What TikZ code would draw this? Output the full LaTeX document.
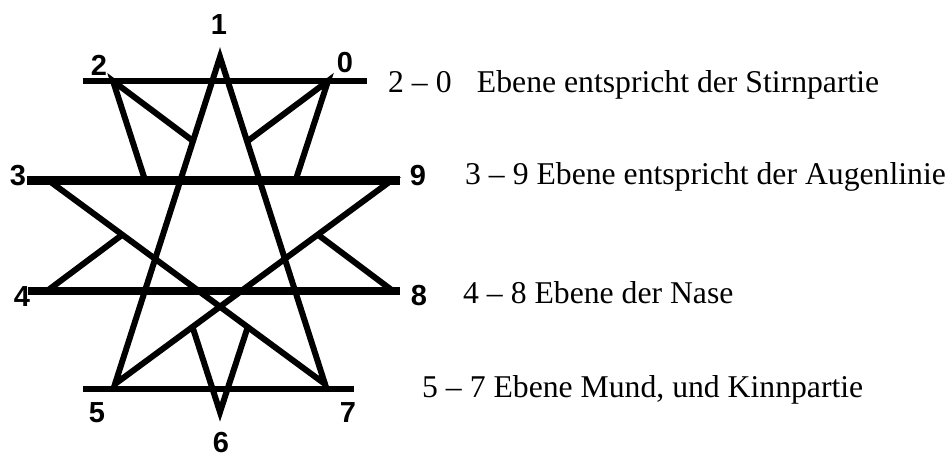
\documentclass[tikz,border=0pt]{standalone}
\usepackage{fontspec}
\setmainfont{Liberation Serif}
\newfontfamily\arialf{Liberation Sans}
\begin{document}
\begin{tikzpicture}[x=1pt,y=-1pt,line join=miter,
  edge/.style={line width=6pt},
  lvl/.style={line width=#1},
  num/.style={font=\arialf\bfseries\fontsize{29}{29}\selectfont,inner sep=0pt},
  desc/.style={font=\fontsize{31.7}{36}\selectfont,inner sep=0pt,anchor=base west}]
\useasboundingbox (0,0) rectangle (952,458);
% pentagram A vertices
\coordinate (v1) at (220,57);
\coordinate (v5) at (115,384);
\coordinate (v9) at (392,180);
\coordinate (v3) at (48,180);
\coordinate (v7) at (325,384);
% pentagram B vertices
\coordinate (v2) at (113,81);
\coordinate (v0) at (328,81);
\coordinate (v6) at (220,412);
\coordinate (v4) at (47,291);
\coordinate (v8) at (393,291);
% horizontal level line ends
\coordinate (h2) at (83,81);   \coordinate (h0) at (367,81);
\coordinate (h3) at (27,180);  \coordinate (h9) at (400,180);
\coordinate (h4) at (28,291);  \coordinate (h8) at (400,291);
\coordinate (h5) at (83,389);  \coordinate (h7) at (354,389);
% intersections where the spikes of B stop
\coordinate (a2) at (intersection of v2--v6 and v3--v9);
\coordinate (b2) at (intersection of v2--v8 and v1--v5);
\coordinate (a0) at (intersection of v0--v6 and v3--v9);
\coordinate (b0) at (intersection of v0--v4 and v1--v7);
\coordinate (a4) at (intersection of v4--v0 and v3--v7);
\coordinate (a8) at (intersection of v8--v2 and v5--v9);
\coordinate (a6) at (intersection of v6--v2 and v5--v9);
\coordinate (b6) at (intersection of v6--v0 and v3--v7);
% pentagram A
\draw[edge] (v1) -- (v5) -- (v9) -- (v3) -- (v7) -- cycle;
% spikes of pentagram B
\draw[edge] (a2) -- (v2) -- (b2);
\draw[edge] (a0) -- (v0) -- (b0);
\draw[edge] (a4) -- (v4);
\draw[edge] (a8) -- (v8);
\draw[edge] (a6) -- (v6) -- (b6);
% level lines
\draw[lvl=5.5pt] (h2) -- (h0);
\draw[lvl=9pt] (h3) -- (h9);
\draw[lvl=7.5pt] (h4) -- (h8);
\draw[lvl=6pt] (h5) -- (h7);
% numbers
\node[num] (l1) at (219,25) {1};
\node[num] (l2) at (99,65) {2};
\node[num] (l0) at (345,63) {0};
\node[num] (l3) at (18,176) {3};
\node[num] (l9) at (418,176) {9};
\node[num] (l4) at (22,297) {4};
\node[num] (l8) at (419,296) {8};
\node[num] (l5) at (97,413) {5};
\node[num] (l7) at (348,413) {7};
\node[num] (l6) at (221,443) {6};
% descriptions
\node[desc] (t20) at (388,92) {2 -- 0\hspace{0.8em}Ebene entspricht der Stirnpartie};
\node[desc] (t39) at (465,184) {3 -- 9 Ebene entspricht der Augenlinie};
\node[desc] (t48) at (463,303) {4 -- 8 Ebene der Nase};
\node[desc] (t57) at (422,397) {5 -- 7 Ebene Mund, und Kinnpartie};
\end{tikzpicture}
\end{document}
